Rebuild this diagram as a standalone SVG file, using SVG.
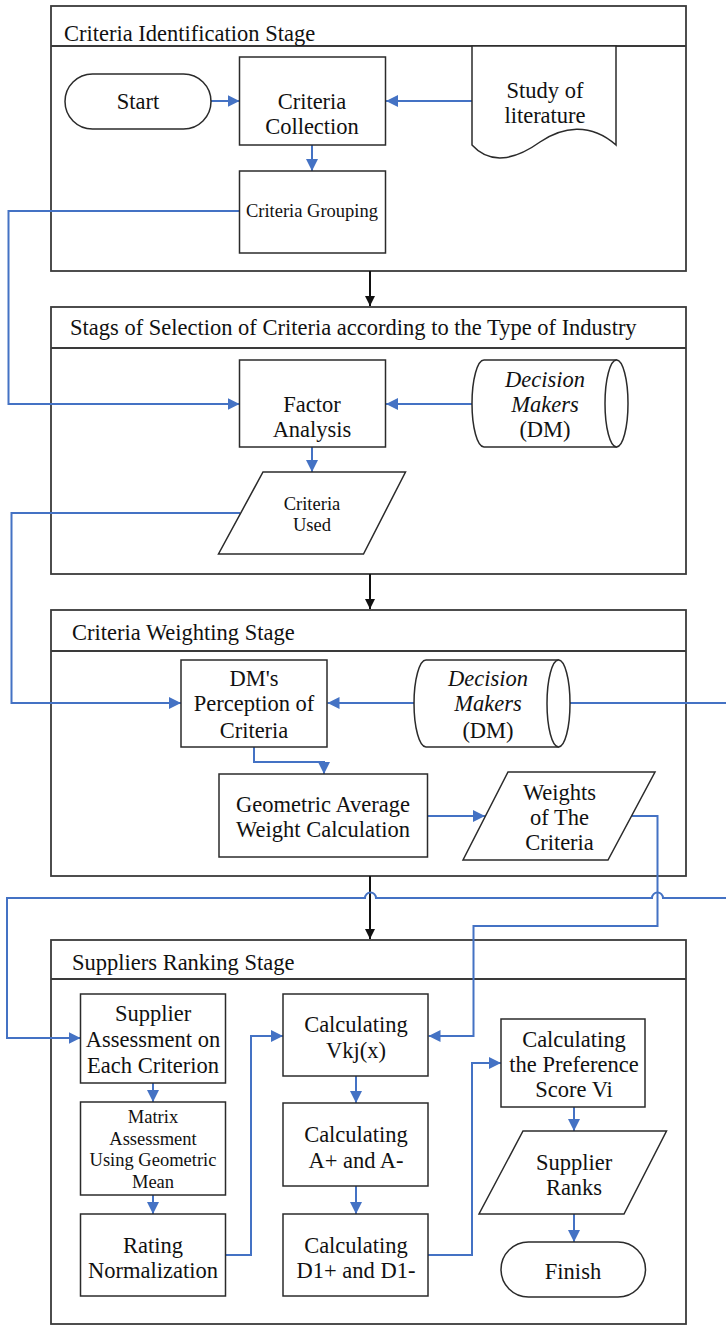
<svg xmlns="http://www.w3.org/2000/svg" width="726" height="1331" viewBox="0 0 726 1331">
<style>
.stage{fill:none;stroke:#3a3a3a;stroke-width:1.8}
.hdr{stroke:#3a3a3a;stroke-width:2}
.box{fill:#fff;stroke:#2b2b2b;stroke-width:1.5}
.t{font-family:"Liberation Serif","Times New Roman",serif;font-size:22.5px;fill:#111;text-anchor:middle}
.s{font-family:"Liberation Serif","Times New Roman",serif;font-size:18.5px;fill:#111;text-anchor:middle}
.ttl{font-family:"Liberation Serif","Times New Roman",serif;font-size:22.5px;fill:#111}
.i{font-style:italic}
.c{fill:none;stroke:#4472C4;stroke-width:2;marker-end:url(#ab)}
.cn{fill:none;stroke:#4472C4;stroke-width:2}
.k{fill:none;stroke:#111;stroke-width:2;marker-end:url(#ak)}
</style>
<defs>
<marker id="ab" markerUnits="userSpaceOnUse" markerWidth="13" markerHeight="12" refX="12" refY="6" orient="auto"><path d="M0,0 L12,6 L0,12 z" fill="#4472C4"/></marker>
<marker id="ak" markerUnits="userSpaceOnUse" markerWidth="11" markerHeight="10" refX="10" refY="5" orient="auto"><path d="M0,0 L10,5 L0,10 z" fill="#111"/></marker>
</defs>
<rect width="726" height="1331" fill="#fff"/>

<g id="stage1">
<rect class="stage" x="51" y="6" width="635" height="265"/>
<line class="hdr" x1="51" y1="46" x2="686" y2="46"/>
<text class="ttl" x="64" y="40.5">Criteria Identification Stage</text>
</g>
<g id="stage2">
<rect class="stage" x="51" y="307" width="635" height="267"/>
<line class="hdr" x1="51" y1="348" x2="686" y2="348"/>
<text class="ttl" x="70" y="334.5">Stags of Selection of Criteria according to the Type of Industry</text>
</g>
<g id="stage3">
<rect class="stage" x="51" y="610" width="635" height="266"/>
<line class="hdr" x1="51" y1="651" x2="686" y2="651"/>
<text class="ttl" x="72" y="639.5">Criteria Weighting Stage</text>
</g>
<g id="stage4">
<rect class="stage" x="51" y="940" width="635" height="384"/>
<line class="hdr" x1="51" y1="979" x2="686" y2="979"/>
<text class="ttl" x="72" y="969.5">Suppliers Ranking Stage</text>
</g>

<g id="connectors">
<path class="k" d="M370,271 V306"/>
<path class="k" d="M370,574 V609"/>
<path class="k" d="M370,876 V939"/>
<path class="c" d="M211,101 H239.5"/>
<path class="c" d="M472,101 H386"/>
<path class="c" d="M312,145 V171"/>
<path class="c" d="M239.5,211 H8.5 V404 H239.5"/>
<path class="c" d="M472,404 H386"/>
<path class="c" d="M312,447 V472"/>
<path class="c" d="M240,513 H11.5 V703 H181"/>
<path class="c" d="M414,703 H327.5"/>
<path class="cn" d="M570,703 H726"/>
<path class="c" d="M254,747 V762 H324 V774"/>
<path class="c" d="M427.5,816 H485"/>
<path class="c" d="M631.5,816 H657.5 V926 H473.5 V1036 H428.5"/>
<path class="c" d="M726,898 H663 A5.5,5.5 0 0 0 652,898 H376 A5.5,5.5 0 0 0 365,898 H7 V1038 H80.5"/>
<path class="c" d="M153,1083 V1102"/>
<path class="c" d="M153,1195 V1214"/>
<path class="c" d="M225.5,1255 H251 V1036 H283"/>
<path class="c" d="M356,1076 V1103"/>
<path class="c" d="M356,1186 V1214"/>
<path class="c" d="M428,1255 H472 V1063 H501"/>
<path class="c" d="M574,1107 V1131"/>
<path class="c" d="M574,1214 V1242"/>
</g>

<g id="start">
<rect class="box" x="65" y="74" width="146" height="55" rx="27.5"/>
<text class="t" x="138" y="108.5">Start</text>
</g>
<g id="criteria-collection">
<rect class="box" x="239.5" y="57" width="146" height="88"/>
<text class="t" x="312" y="109">Criteria</text>
<text class="t" x="312" y="134">Collection</text>
</g>
<g id="study-literature">
<path class="box" d="M472,46 H616 V145 C590,122 562,127 540,142 C515,160 490,165 472,145 Z"/>
<text class="t" x="545" y="97.5">Study of</text>
<text class="t" x="545" y="122.5">literature</text>
</g>
<g id="criteria-grouping">
<rect class="box" x="239.5" y="171" width="146" height="82"/>
<text class="s" x="312" y="217">Criteria Grouping</text>
</g>

<g id="factor-analysis">
<rect class="box" x="239.5" y="360" width="146" height="87"/>
<text class="t" x="312" y="411.5">Factor</text>
<text class="t" x="312" y="436.5">Analysis</text>
</g>
<g id="decision-makers-1">
<path class="box" d="M484,360 H616.5 V447 H484 A12,43.5 0 0 1 484,360 Z"/>
<ellipse class="box" cx="616.5" cy="403.5" rx="11.5" ry="43.5"/>
<text class="t i" x="545" y="386.5">Decision</text>
<text class="t i" x="545" y="411.5">Makers</text>
<text class="t" x="545" y="436.5">(DM)</text>
</g>
<g id="criteria-used">
<path class="box" d="M263,472 H405.5 L363.5,554 H218.5 Z"/>
<text class="s" x="312" y="510">Criteria</text>
<text class="s" x="312" y="531">Used</text>
</g>

<g id="dm-perception">
<rect class="box" x="181" y="660" width="146" height="87"/>
<text class="t" x="254" y="685.5">DM's</text>
<text class="t" x="254" y="710.5">Perception of</text>
<text class="t" x="254" y="737.5">Criteria</text>
</g>
<g id="decision-makers-2">
<path class="box" d="M426,660 H558.5 V747 H426 A12,43.5 0 0 1 426,660 Z"/>
<ellipse class="box" cx="558.5" cy="703.5" rx="11.5" ry="43.5"/>
<text class="t i" x="488" y="685.5">Decision</text>
<text class="t i" x="488" y="710.5">Makers</text>
<text class="t" x="488" y="737.5">(DM)</text>
</g>
<g id="geometric-average">
<rect class="box" x="219" y="774" width="208.5" height="83"/>
<text class="t" x="323" y="811.5">Geometric Average</text>
<text class="t" x="323" y="836.5">Weight Calculation</text>
</g>
<g id="weights">
<path class="box" d="M508,772 H655 L608,860 H463 Z"/>
<text class="t" x="559.5" y="799.5">Weights</text>
<text class="t" x="559.5" y="824.5">of The</text>
<text class="t" x="559.5" y="849.5">Criteria</text>
</g>

<g id="supplier-assessment">
<rect class="box" x="80.5" y="994" width="145" height="89"/>
<text class="t" x="153" y="1020.5">Supplier</text>
<text class="t" x="153" y="1046.5">Assessment on</text>
<text class="t" x="153" y="1072.5">Each Criterion</text>
</g>
<g id="matrix-assessment">
<rect class="box" x="80.5" y="1102" width="145" height="93"/>
<text class="s" x="153" y="1123">Matrix</text>
<text class="s" x="153" y="1145">Assessment</text>
<text class="s" x="153" y="1166">Using Geometric</text>
<text class="s" x="153" y="1188">Mean</text>
</g>
<g id="rating-normalization">
<rect class="box" x="80.5" y="1214" width="145" height="82"/>
<text class="t" x="153" y="1252.5">Rating</text>
<text class="t" x="153" y="1277.5">Normalization</text>
</g>
<g id="calc-vkj">
<rect class="box" x="283" y="994" width="145" height="82"/>
<text class="t" x="356" y="1031.5">Calculating</text>
<text class="t" x="356" y="1057.5">Vkj(x)</text>
</g>
<g id="calc-a">
<rect class="box" x="283" y="1103" width="145" height="83"/>
<text class="t" x="356" y="1141.5">Calculating</text>
<text class="t" x="356" y="1167.5">A+ and A-</text>
</g>
<g id="calc-d1">
<rect class="box" x="283" y="1214" width="145" height="82"/>
<text class="t" x="356" y="1252.5">Calculating</text>
<text class="t" x="356" y="1277.5">D1+ and D1-</text>
</g>
<g id="calc-preference">
<rect class="box" x="501" y="1019" width="144" height="88"/>
<text class="t" x="574" y="1046.5">Calculating</text>
<text class="t" x="574" y="1071.5">the Preference</text>
<text class="t" x="574" y="1096.5">Score Vi</text>
</g>
<g id="supplier-ranks">
<path class="box" d="M523,1131 H666.5 L624,1214 H479 Z"/>
<text class="t" x="574" y="1169.5">Supplier</text>
<text class="t" x="574" y="1194.5">Ranks</text>
</g>
<g id="finish">
<rect class="box" x="501" y="1242" width="144.5" height="55" rx="27.5"/>
<text class="t" x="573" y="1278.5">Finish</text>
</g>
</svg>
